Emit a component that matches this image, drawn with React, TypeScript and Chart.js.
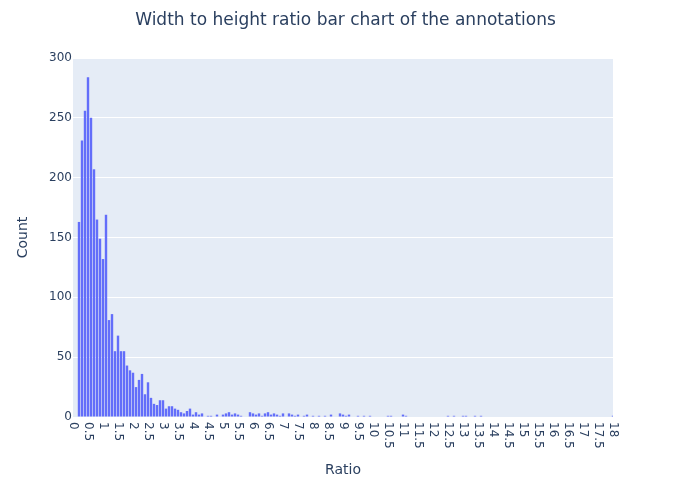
import { useEffect, useRef } from 'react';
import { Chart, registerables } from 'chart.js';

Chart.register(...registerables);

const titleText = 'Width to height ratio bar chart of the annotations';
const xTitle = 'Ratio';
const yTitle = 'Count';

// Ratio bins (bar centres) with non-zero counts
const ratios = [
  0.2, 0.3, 0.4, 0.5, 0.6, 0.7, 0.8, 0.9, 1.0, 1.1,
  1.2, 1.3, 1.4, 1.5, 1.6, 1.7, 1.8, 1.9, 2.0, 2.1,
  2.2, 2.3, 2.4, 2.5, 2.6, 2.7, 2.8, 2.9, 3.0, 3.1,
  3.2, 3.3, 3.4, 3.5, 3.6, 3.7, 3.8, 3.9, 4.0, 4.1,
  4.2, 4.3, 4.5, 4.6, 4.8, 5.0, 5.1, 5.2, 5.3, 5.4,
  5.5, 5.6, 5.9, 6.0, 6.1, 6.2, 6.3, 6.4, 6.5, 6.6,
  6.7, 6.8, 6.9, 7.0, 7.2, 7.3, 7.4, 7.5, 7.7, 7.8,
  8.0, 8.2, 8.4, 8.6, 8.9, 9.0, 9.1, 9.2, 9.5, 9.7,
  9.9, 10.5, 10.6, 11.0, 11.1, 12.5, 12.7, 13.0, 13.1, 13.4,
  13.6, 18.0,
];
const counts = [
  163, 231, 256, 284, 250, 207, 165, 149, 132, 169,
  81, 86, 55, 68, 55, 55, 43, 39, 37, 25,
  31, 36, 19, 29, 16, 11, 10, 14, 14, 7,
  9, 9, 7, 6, 4, 3, 5, 7, 2, 4,
  2, 3, 1, 1, 2, 2, 3, 4, 2, 3,
  2, 1, 4, 3, 2, 3, 1, 3, 4, 2,
  3, 2, 1, 3, 3, 2, 1, 2, 1, 2,
  1, 1, 1, 2, 3, 2, 1, 2, 1, 1,
  1, 1, 1, 2, 1, 1, 1, 1, 1, 1,
  1, 1,
];

const xMin = 0;
const xMax = 18;
const xStep = 0.5;
const yMin = 0;
const yMax = 300;
const yStep = 50;

export default function App() {
  const ref = useRef<HTMLCanvasElement>(null);

  useEffect(() => {
    if (!ref.current) return;
    const FONT = '"DejaVu Sans", verdana, arial, sans-serif';
    const TEXT = '#2a3f5f';

    const plotlyLook = {
      id: 'plotlyLook',
      beforeDraw(chart: any) {
        const { ctx, chartArea: a } = chart;
        ctx.save();
        ctx.fillStyle = '#ffffff';
        ctx.fillRect(0, 0, chart.width, chart.height);
        ctx.fillStyle = '#E5ECF6';
        ctx.fillRect(a.left, a.top, a.right - a.left, a.bottom - a.top);
        ctx.restore();
      },
      afterDraw(chart: any) {
        const { ctx, chartArea: a } = chart;
        const xs = chart.scales.x;
        ctx.save();
        ctx.fillStyle = TEXT;
        ctx.font = `12px ${FONT}`;
        ctx.textAlign = 'left';
        ctx.textBaseline = 'middle';
        for (const t of xs.ticks) {
          const px = xs.getPixelForValue(t.value);
          ctx.save();
          ctx.translate(px, a.bottom + 5);
          ctx.rotate(Math.PI / 2);
          ctx.fillText(String(Number(t.value.toFixed(2))), 0, 0);
          ctx.restore();
        }
        ctx.textAlign = 'center';
        ctx.font = `17px ${FONT}`;
        ctx.fillText(titleText, chart.width / 2 - 2, 21);
        ctx.font = `14px ${FONT}`;
        ctx.fillText(xTitle, (a.left + a.right) / 2, 470);
        ctx.save();
        ctx.translate(23, (a.top + a.bottom) / 2);
        ctx.rotate(-Math.PI / 2);
        ctx.fillText(yTitle, 0, 0);
        ctx.restore();
        ctx.restore();
      },
    };

    const chart = new Chart(ref.current, {
      type: 'bar',
      data: {
        datasets: [
          {
            data: ratios.map((r, i) => ({ x: r, y: counts[i] })),
            backgroundColor: '#636efa',
            borderWidth: 0,
            categoryPercentage: 1,
            barPercentage: 0.8,
          },
        ],
      },
      options: {
        animation: false,
        responsive: true,
        maintainAspectRatio: false,
        layout: { padding: { top: 58, right: 82, left: 0, bottom: 0 } },
        plugins: {
          legend: { display: false },
          title: { display: false },
          tooltip: { enabled: false },
        },
        scales: {
          x: {
            type: 'linear',
            min: xMin,
            max: xMax,
            offset: false,
            ticks: { display: false, stepSize: xStep },
            grid: { display: false },
            border: { display: false },
            afterFit: (s: any) => {
              s.height = 80;
            },
          },
          y: {
            min: yMin,
            max: yMax,
            ticks: {
              stepSize: yStep,
              color: TEXT,
              padding: 1,
              font: { family: FONT, size: 12 },
            },
            grid: { color: '#ffffff', lineWidth: 1, drawTicks: false },
            border: { display: false },
            afterFit: (s: any) => {
              s.width = 73;
            },
          },
        },
      },
      plugins: [plotlyLook],
    });

    return () => chart.destroy();
  }, []);

  return (
    <div style={{ position: 'absolute', left: 0, top: 0, width: 695, height: 497 }}>
      <canvas ref={ref} />
    </div>
  );
}
